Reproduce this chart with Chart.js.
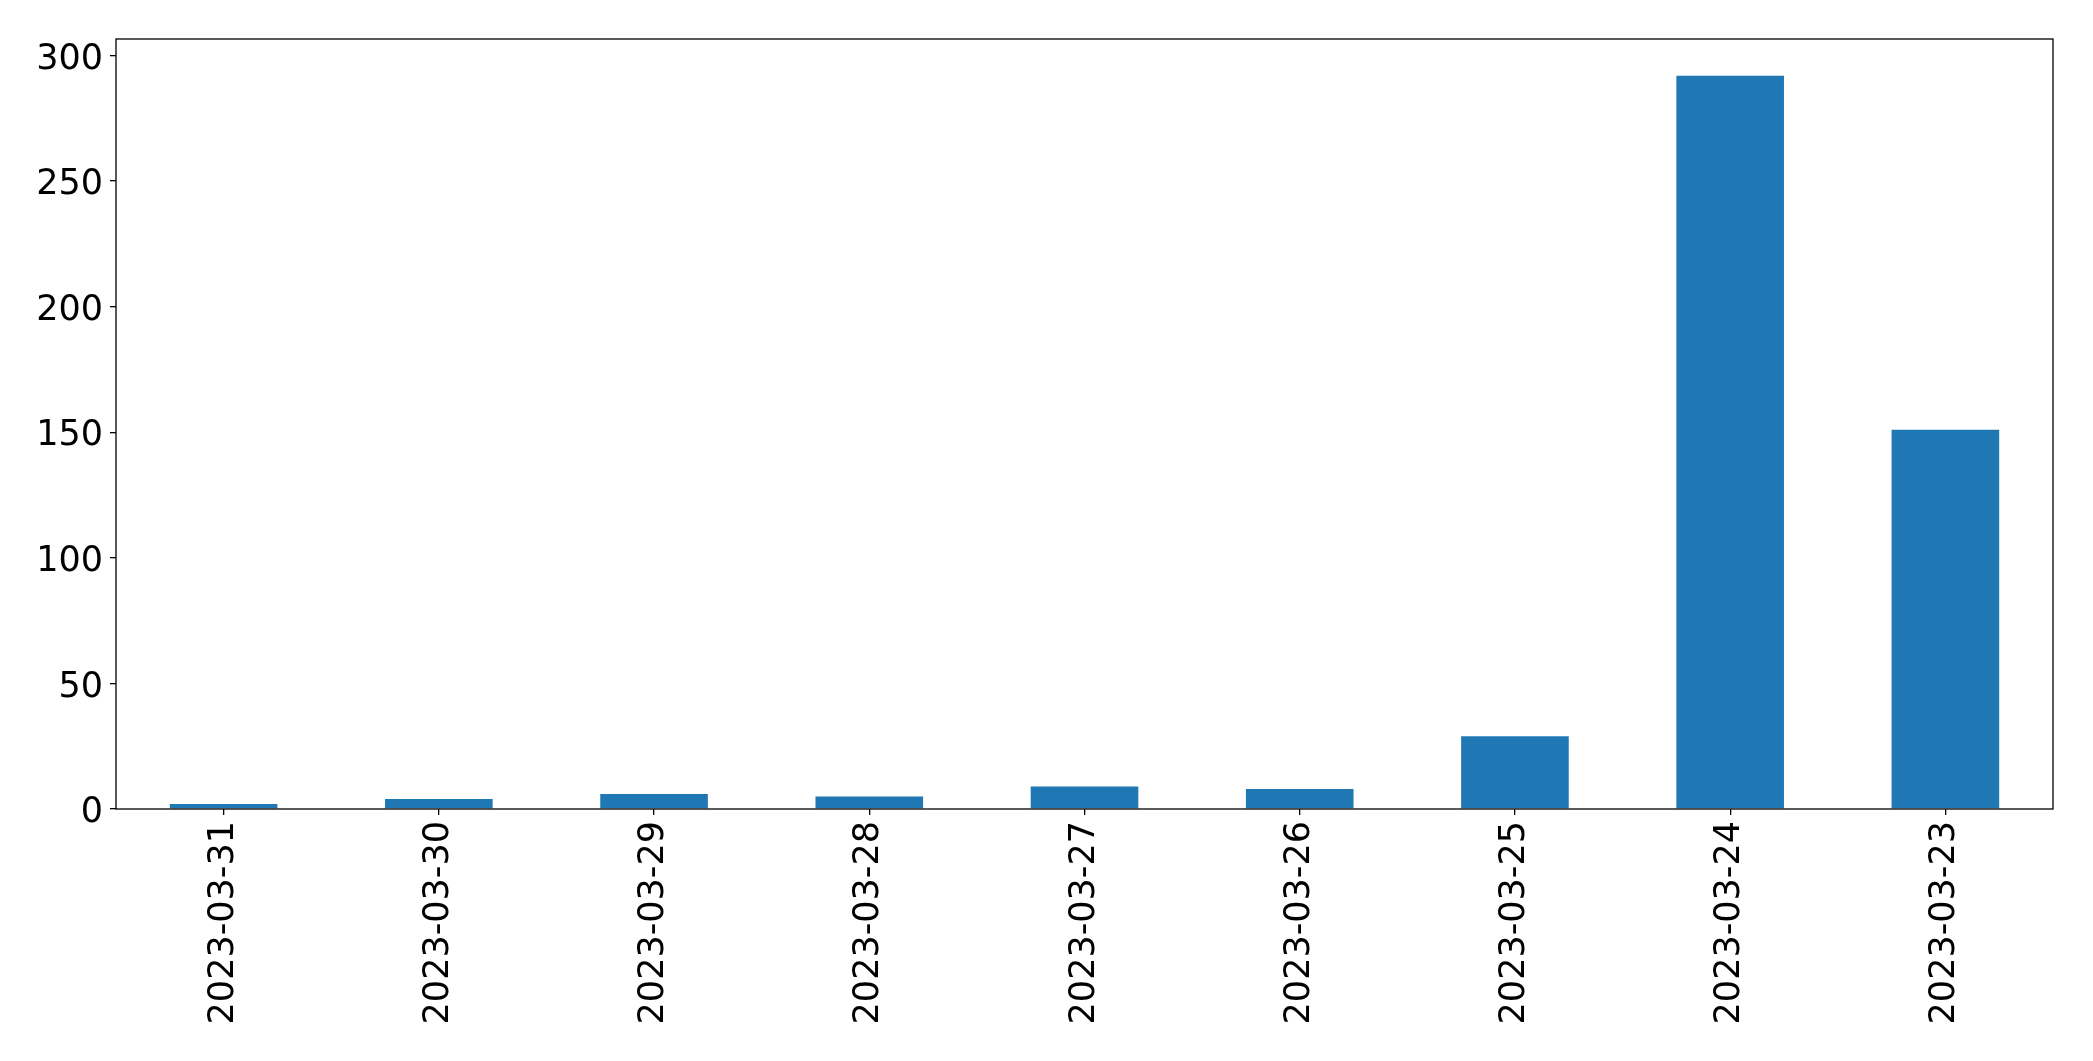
<!DOCTYPE html>
<html>
<head>
<meta charset="utf-8">
<script src="https://cdn.jsdelivr.net/npm/chart.js@4"></script>
<style>
  html, body { margin: 0; padding: 0; background: #fff; }
  canvas { display: block; }
</style>
</head>
<body>
<canvas id="bar-plot" width="2093" height="1061"></canvas>
<script>
// fechas en el orden que salen en el grafico
const dates = ['2023-03-31', '2023-03-30', '2023-03-29', '2023-03-28', '2023-03-27',
               '2023-03-26', '2023-03-25', '2023-03-24', '2023-03-23'];
const counts = [2, 4, 6, 5, 9, 8, 29, 292, 151];
const yTicks = [0, 50, 100, 150, 200, 250, 300];

// dibuja el marco completo alrededor del area del grafico
const framePlugin = {
    id: 'frame',
    afterDraw(chart) {
        const { ctx, chartArea } = chart;
        ctx.save();
        ctx.strokeStyle = '#000';
        ctx.lineWidth = 1.3;
        ctx.strokeRect(chartArea.left, chartArea.top,
            chartArea.right - chartArea.left, chartArea.bottom - chartArea.top);
        ctx.restore();
    }
};

let ctx = document.getElementById('bar-plot').getContext('2d');
let barChart = new Chart(ctx, {
    type: 'bar',
    data: {
        labels: dates,
        datasets: [{
            data: counts,
            backgroundColor: '#1f77b4',
            barPercentage: 0.5,
            categoryPercentage: 1.0
        }]
    },
    options: {
        responsive: false,
        animation: false,
        layout: { padding: { top: 39, right: 40, left: 0, bottom: 0 } },
        plugins: {
            legend: { display: false },
            tooltip: { enabled: false }
        },
        scales: {
            x: {
                grid: { drawOnChartArea: false, offset: false, tickLength: 6, color: '#000', lineWidth: 1.3 },
                border: { display: false },
                ticks: {
                    color: '#000',
                    font: { family: 'DejaVu Sans', size: 35 },
                    minRotation: 90,
                    maxRotation: 90,
                    padding: 6
                },
                afterFit(scale) { scale.height = 1061 - 809; }
            },
            y: {
                min: 0,
                max: 306.6,
                grid: { drawOnChartArea: false, tickLength: 6, color: '#000', lineWidth: 1.3 },
                border: { display: false },
                ticks: {
                    color: '#000',
                    font: { family: 'DejaVu Sans', size: 35 },
                    stepSize: 50,
                    padding: 7,
                    labelOffset: 4
                },
                afterBuildTicks(scale) {
                    scale.ticks = yTicks.map(v => ({ value: v }));
                },
                afterFit(scale) { scale.width = 116; }
            }
        }
    },
    plugins: [framePlugin]
});
</script>
</body>
</html>
